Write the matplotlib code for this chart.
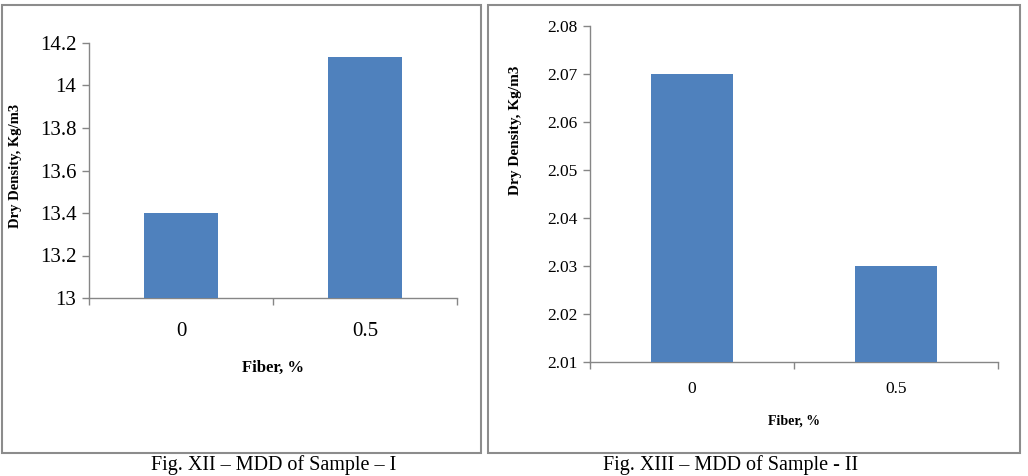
import matplotlib
matplotlib.use('Agg')
import matplotlib.pyplot as plt
from matplotlib.patches import Rectangle

# fiber content categories
fiber = ['0', '0.5']
# maximum dry density, sample I and II
mdd_1 = [13.4, 14.135]
mdd_2 = [2.07, 2.03]

ylim_1 = (13, 14.2)
yticks_1 = [13, 13.2, 13.4, 13.6, 13.8, 14, 14.2]
ylim_2 = (2.01, 2.08)
yticks_2 = [2.01, 2.02, 2.03, 2.04, 2.05, 2.06, 2.07, 2.08]

caption_1 = 'Fig. XII \u2013 MDD of Sample \u2013 I'
caption_2 = 'Fig. XIII \u2013 MDD of Sample - II'

plt.rcParams['font.family'] = ['Liberation Serif', 'DejaVu Serif']

bar_col = '#4f81bd'
axis_col = '#868686'
W, H = 1028, 476

fig = plt.figure(figsize=(W / 100, H / 100), dpi=100)

# panel frames
fig.add_artist(Rectangle((2 / W, 1 - 453 / H), 479 / W, 448 / H, transform=fig.transFigure,
                         fill=False, edgecolor='#8c8c8c', linewidth=1.5))
fig.add_artist(Rectangle((488 / W, 1 - 453 / H), 532 / W, 448 / H, transform=fig.transFigure,
                         fill=False, edgecolor='#8c8c8c', linewidth=1.5))


def draw(ax, vals, ylim, yticks, fmt, tick_fs, lab_fs, xlab_pad):
    x = range(len(fiber))
    ax.bar(x, [v - ylim[0] for v in vals], bottom=ylim[0], width=0.4, color=bar_col, zorder=3)
    ax.set_xlim(-0.5, len(fiber) - 0.5)
    ax.set_ylim(*ylim)
    ax.set_yticks(yticks)
    ax.set_yticklabels([fmt(t) for t in yticks], fontsize=tick_fs)
    ax.set_xticks(list(x))
    ax.set_xticklabels(fiber, fontsize=tick_fs)
    ax.set_xticks([-0.5, 0.5, 1.5], minor=True)
    ax.tick_params(axis='x', which='major', length=0, pad=xlab_pad)
    ax.tick_params(axis='x', which='minor', length=5, color=axis_col, width=1)
    ax.tick_params(axis='y', length=5, color=axis_col, width=1, pad=4)
    for s in ['top', 'right']:
        ax.spines[s].set_visible(False)
    for s in ['left', 'bottom']:
        ax.spines[s].set_color(axis_col)
        ax.spines[s].set_linewidth(1)
    ax.set_ylabel('Dry Density, Kg/m3', fontsize=lab_fs, fontweight='bold')


ax1 = fig.add_axes([89 / W, 1 - 298 / H, (457 - 89) / W, (298 - 43) / H])
draw(ax1, mdd_1, ylim_1, yticks_1, lambda t: ('%g' % t), 15, 10.5, 17)
ax1.yaxis.set_label_coords((22 - 89) / (457 - 89), (298 - 166) / (298 - 43))
ax1.set_xlabel('Fiber, %', fontsize=12, fontweight='bold', labelpad=14)

ax2 = fig.add_axes([590 / W, 1 - 362 / H, (998 - 590) / W, (362 - 26) / H])
draw(ax2, mdd_2, ylim_2, yticks_2, lambda t: ('%.2f' % t), 12.5, 11, 14)
ax2.yaxis.set_label_coords((522 - 590) / (998 - 590), (362 - 130) / (362 - 26))
ax2.set_xlabel('Fiber, %', fontsize=10, fontweight='bold', labelpad=12)

fig.text(274 / W, 1 - 475 / H, caption_1, ha='center', va='bottom', fontsize=14.5)
fig.text(731 / W, 1 - 475 / H, caption_2, ha='center', va='bottom', fontsize=14.5)

fig.savefig('out.png', dpi=100)
